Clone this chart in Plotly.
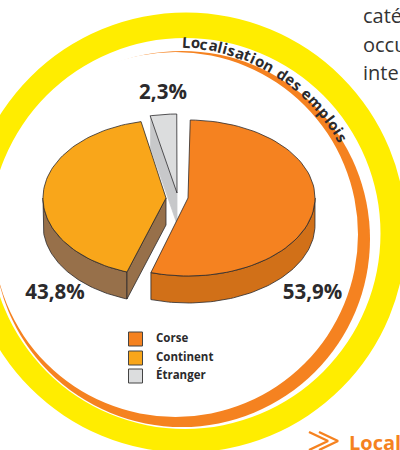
import math
import numpy as np
import plotly.graph_objects as go

categories = ["Corse", "Continent", "Étranger"]
shares = [53.9, 43.8, 2.3]
share_labels = ["53,9%", "43,8%", "2,3%"]
title_text = "Localisation des emplois"
side_texts = ["caté", "occu", "inte"]
footer_text = "Local"

W, H = 400, 450
INK = "#2b2a2c"
TOP = ["#f58220", "#f9a61a", "#dcddde"]
SIDE = ["#d17018", "#97704a", "#c7c8ca"]
FONT = "Open Sans"

# slice geometry: apex, radii, start angle, drawing stretch of the sweep
APEX = [(188, 198), (166, 198), (177, 193)]
RX = [127, 123, 127]
RY = [78, 78, 79]
START = [1.0, 198.5, -12.2]
STRETCH = [1.01, 0.95, 1.46]
DEPTH = 27


def arc(i, a0, a1, dy=0):
    t = np.radians(np.linspace(a0, a1, 80))
    cx, cy = APEX[i]
    return cx + RX[i] * np.sin(t), cy + dy - RY[i] * np.cos(t)


def sweep(i):
    return START[i], START[i] + shares[i] * 3.6 * STRETCH[i]


fig = go.Figure()


def poly(x, y, fill, line=INK):
    fig.add_trace(go.Scatter(
        x=list(x), y=list(y), mode="lines", fill="toself", fillcolor=fill,
        line=dict(color=line, width=0.8), hoverinfo="skip", showlegend=False))


def wedge(i):
    a0, a1 = sweep(i)
    x, y = arc(i, a0, a1)
    ax, ay = APEX[i]
    poly([ax, *x, ax], [ay, *y, ay], TOP[i])


# Étranger: inner wall, then top
a0, a1 = sweep(2)
ex, ey = arc(2, a0, a0)
ax, ay = APEX[2]
poly([ex[0], ax, ax, ex[0]], [ey[0], ay, ay + DEPTH + 4, ey[0] + DEPTH + 4], SIDE[2], SIDE[2])
wedge(2)

# Continent: outer wall, inner wall, top
a0, a1 = sweep(1)
x1, y1 = arc(1, a0, 270)
x2, y2 = arc(1, 270, a0, DEPTH)
poly([*x1, *x2, x1[0]], [*y1, *y2, y1[0]], SIDE[1])
ax, ay = APEX[1]
sx, sy = arc(1, a0, a0)
poly([ax, sx[0], sx[0], ax, ax], [ay, sy[0], sy[0] + DEPTH, ay + DEPTH, ay], SIDE[1])
wedge(1)

# Corse: outer wall, top
a0, a1 = sweep(0)
x1, y1 = arc(0, 90, a1)
x2, y2 = arc(0, a1, 90, DEPTH)
poly([*x1, *x2, x1[0]], [*y1, *y2, y1[0]], SIDE[0])
wedge(0)

# legend
LEG_Y = [339, 358, 376]
fig.add_trace(go.Scatter(
    x=[135.5] * 3, y=LEG_Y, mode="markers",
    marker=dict(symbol="square", size=14, color=TOP, line=dict(color="#444", width=1)),
    hoverinfo="skip", showlegend=False))
fig.add_trace(go.Scatter(
    x=[156] * 3, y=LEG_Y, mode="text", text=categories, textposition="middle right",
    textfont=dict(family=FONT, size=11.5, color=INK, weight="bold"),
    hoverinfo="skip", showlegend=False))

# share labels
LAB_XY = [(312.5, 294), (55, 294), (163, 94)]
fig.add_trace(go.Scatter(
    x=[p[0] for p in LAB_XY], y=[p[1] for p in LAB_XY], mode="text", text=share_labels,
    textposition="middle center",
    textfont=dict(family=FONT, size=20.5, color=INK, weight="bold"),
    hoverinfo="skip", showlegend=False))


def disc(cx, cy, r, col):
    return dict(type="circle", xref="x", yref="y", x0=cx - r, x1=cx + r, y0=cy - r, y1=cy + r,
                fillcolor=col, line=dict(width=0), layer="below")


shapes = [
    disc(186, 232.5, 220, "#ffed00"),
    disc(185, 233.5, 195.5, "#ffffff"),
    disc(182, 239, 188, "#f58220"),
    disc(175.5, 234.5, 182.5, "#ffffff"),
]
fig.update_layout(
    width=W, height=H, margin=dict(l=0, r=0, t=0, b=0), autosize=False,
    paper_bgcolor="white", plot_bgcolor="white", showlegend=False, shapes=shapes,
    xaxis=dict(range=[0, W], visible=False, fixedrange=True),
    yaxis=dict(range=[H, 0], visible=False, fixedrange=True),
)

# curved title, one rotated letter at a time
EM = dict(L=.56, o=.62, c=.51, a=.6, l=.31, i=.31, s=.5, t=.43, n=.66, d=.63, e=.59, m=.98, p=.63)
EM[" "] = .3
widths = [EM[c] for c in title_text]
total = sum(widths)
ANG0, ANG1, R, CX, CY = 1.6, 60.8, 192.5, 176, 234
pos = 0
for ch, w in zip(title_text, widths):
    ang = ANG0 + (ANG1 - ANG0) * (pos + w / 2) / total
    pos += w
    if ch == " ":
        continue
    fig.add_annotation(
        x=CX + R * math.sin(math.radians(ang)), y=CY - R * math.cos(math.radians(ang)),
        text=ch, textangle=ang, showarrow=False, xanchor="center", yanchor="middle",
        font=dict(family=FONT, size=15, color=INK, weight="bold"))

# cropped body text
for t, y in zip(side_texts, [15, 44, 72]):
    fig.add_annotation(x=361, y=y, text=t, showarrow=False, xanchor="left", yanchor="middle",
                       font=dict(family=FONT, size=20, color="#333333"))
fig.add_annotation(x=347, y=442, text=footer_text, showarrow=False, xanchor="left", yanchor="middle",
                   font=dict(family=FONT, size=20, color="#f58220", weight="bold"))

# double chevron
for dx, wid in [(0, 2.4), (10, 2.4)]:
    fig.add_trace(go.Scatter(
        x=[309 + dx, 328 + dx, 309 + dx], y=[432, 441, 450], mode="lines",
        line=dict(color="#f58220", width=wid), hoverinfo="skip", showlegend=False))

fig.write_html("out.html", config=dict(displayModeBar=False),
               post_script="document.body.style.margin='0';document.body.style.overflow='hidden';")
